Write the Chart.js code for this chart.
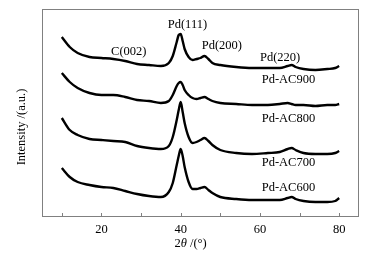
<!DOCTYPE html>
<html>
<head>
<meta charset="utf-8">
<script src="https://cdn.jsdelivr.net/npm/chart.js@4/dist/chart.umd.min.js"></script>
<style>
  html, body { margin: 0; padding: 0; background: #fff; }
</style>
</head>
<body>
<canvas id="xrdChart" width="371" height="253"></canvas>
<script>
// 2theta positions (degrees) shared by all four patterns
const twoTheta = [10, 12, 14, 17, 20, 23, 26, 29, 32, 35, 37, 38, 39, 39.5, 40, 40.5, 41, 42, 43, 44,
                  45, 46, 47, 48, 50, 54, 58, 62, 65, 67, 68, 69, 71, 74, 77, 79, 80];

// intensities (a.u., already offset for stacking)
const pdAC900 = [180, 170, 164, 160, 159, 158, 156, 153, 152, 151, 154, 161, 175, 182, 183, 176, 168, 160, 157, 158,
                 159, 161, 158, 154, 152, 150, 149, 149, 149, 151, 152, 150, 148, 147, 148, 149, 151];
const pdAC800 = [144, 135, 129, 124, 122, 122, 120, 117, 116, 114, 116, 122, 131, 134, 135, 132, 127, 122, 119, 118,
                 119, 120, 118, 116, 114, 113, 112, 112, 113, 114, 113, 112, 112, 111, 112, 112, 113];
const pdAC700 = [99, 87, 82, 78, 77, 76, 75, 71, 69, 68, 71, 80, 97, 107, 115, 105, 94, 80, 74, 75,
                 77, 79, 76, 72, 67, 64, 63, 64, 65, 68, 69, 67, 64, 63, 63, 64, 66];
const pdAC600 = [49, 40, 35, 32, 30, 29, 26, 23, 21, 20, 25, 34, 52, 61, 68, 61, 50, 35, 28, 28,
                 29, 30, 27, 24, 20, 18, 17, 17, 17, 19, 20, 18, 16, 15, 15, 16, 19];

const xTicks = [10, 20, 30, 40, 50, 60, 70, 80];

// text labels inside the plot, given in data coordinates
const noteText = ['C(002)', 'Pd(111)', 'Pd(200)', 'Pd(220)', 'Pd-AC900', 'Pd-AC800', 'Pd-AC700', 'Pd-AC600'];
const noteX = [26.9, 41.7, 50.4, 65.1, 67.2, 67.2, 67.2, 67.2];
const noteY = [165, 192, 171, 159, 137, 98, 54, 29];

const serif = '"Liberation Serif", "Times New Roman", serif';

function series(values) {
    return {
        data: twoTheta.map((t, i) => ({ x: t, y: values[i] })),
        borderColor: '#000',
        borderWidth: 2.4,
        pointRadius: 0,
        cubicInterpolationMode: 'monotone',
        fill: false
    };
}

const decorPlugin = {
    id: 'decor',
    afterDraw(chart) {
        const { ctx, chartArea: a, scales: { x, y } } = chart;
        ctx.save();

        // grey frame and inward ticks
        ctx.strokeStyle = '#808080';
        ctx.lineWidth = 1;
        ctx.strokeRect(a.left + 0.5, a.top + 0.5, a.width - 1, a.height - 1);
        xTicks.forEach(v => {
            const px = Math.round(x.getPixelForValue(v)) + 0.5;
            ctx.beginPath();
            ctx.moveTo(px, a.bottom);
            ctx.lineTo(px, a.bottom - 4);
            ctx.stroke();
        });

        ctx.fillStyle = '#000';
        ctx.textAlign = 'center';
        ctx.textBaseline = 'middle';
        ctx.font = '12.5px ' + serif;
        noteText.forEach((t, i) => {
            ctx.fillText(t, x.getPixelForValue(noteX[i]), y.getPixelForValue(noteY[i]));
        });

        // y title
        ctx.save();
        ctx.translate(22, 127);
        ctx.rotate(-Math.PI / 2);
        ctx.fillText('Intensity /(a.u.)', 0, 0);
        ctx.restore();

        // x title: 2θ /(°) with italic theta
        const parts = [['2', ''], ['\u03B8', 'italic '], [' /(\u00B0)', '']];
        let total = 0;
        parts.forEach(p => { ctx.font = p[1] + '12.5px ' + serif; total += ctx.measureText(p[0]).width; });
        let cx = x.getPixelForValue(42.5) - total / 2;
        ctx.textAlign = 'left';
        parts.forEach(p => {
            ctx.font = p[1] + '12.5px ' + serif;
            ctx.fillText(p[0], cx, 244);
            cx += ctx.measureText(p[0]).width;
        });
        ctx.restore();
    }
};

new Chart(document.getElementById('xrdChart'), {
    type: 'line',
    data: {
        datasets: [series(pdAC900), series(pdAC800), series(pdAC700), series(pdAC600)]
    },
    options: {
        responsive: false,
        animation: false,
        devicePixelRatio: 1,
        layout: { padding: { left: 42, right: 12, top: 9, bottom: 0 } },
        plugins: { legend: { display: false }, tooltip: { enabled: false } },
        scales: {
            x: {
                type: 'linear',
                min: 5,
                max: 85,
                afterBuildTicks: s => { s.ticks = xTicks.map(v => ({ value: v })); },
                afterFit: s => { s.height = 36; },
                grid: { display: false, drawTicks: false },
                border: { display: false },
                ticks: {
                    padding: 5,
                    color: '#000',
                    font: { family: serif, size: 12.5 },
                    maxRotation: 0,
                    callback: v => (v % 20 === 0 ? String(v) : '')
                }
            },
            y: {
                display: false,
                min: 0,
                max: 208
            }
        }
    },
    plugins: [decorPlugin]
});
</script>
</body>
</html>
